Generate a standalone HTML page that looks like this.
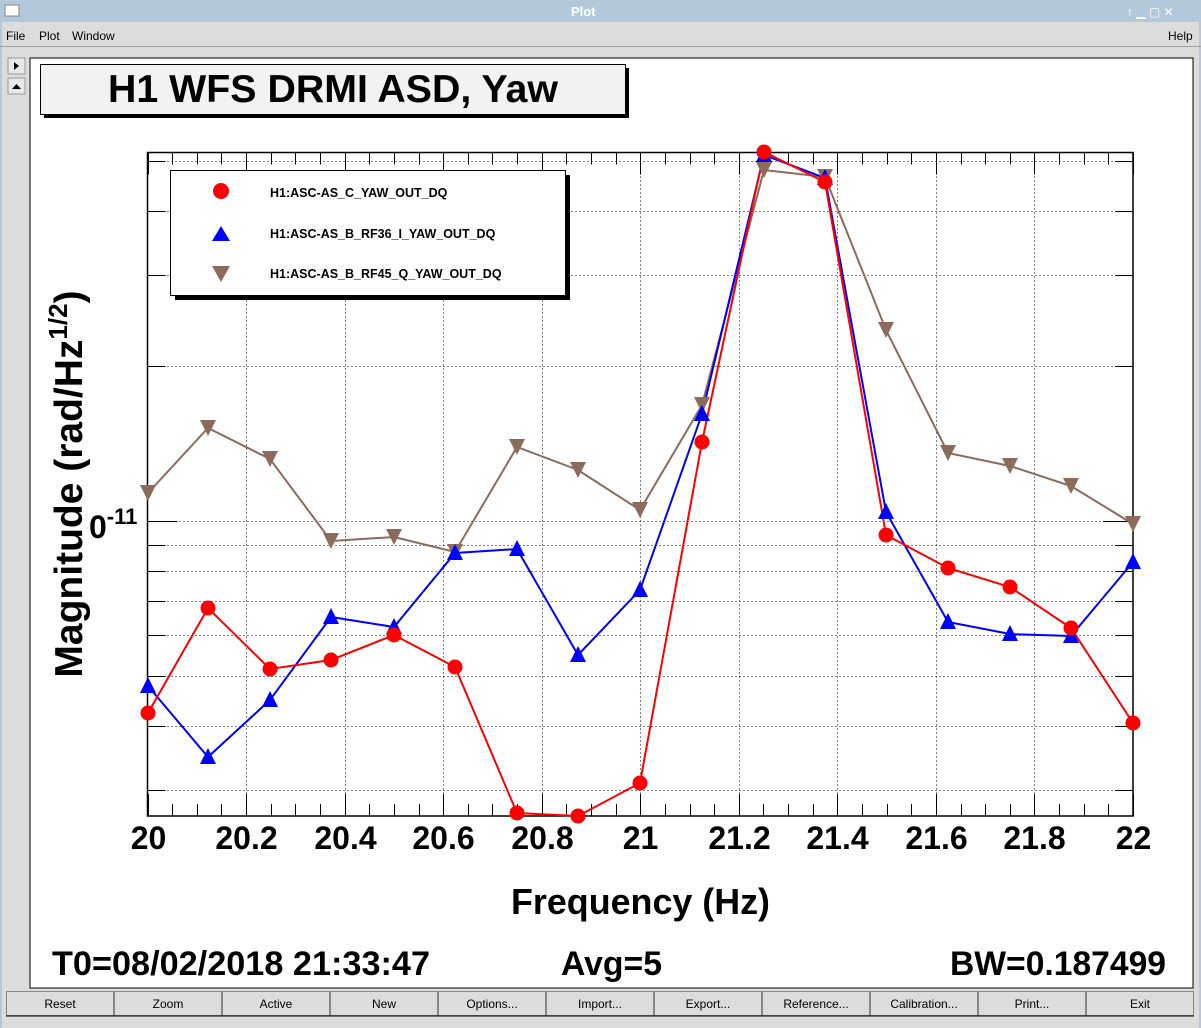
<!DOCTYPE html>
<html><head><meta charset="utf-8"><style>
body{margin:0;width:1201px;height:1028px;overflow:hidden;background:#dcdcdc;font-family:"Liberation Sans",sans-serif}
</style></head><body>
<svg id="s" width="1201" height="1028" xmlns="http://www.w3.org/2000/svg" style="position:absolute;left:0;top:0">
<rect x="0" y="0" width="1201" height="1028" fill="#dcdcdc"/>
<rect x="0" y="0" width="1201" height="22" fill="#b4c8dc"/>
<rect x="5" y="5" width="14" height="11" fill="#fff" stroke="#888"/>
<text x="571" y="16" font-size="13" font-weight="bold" fill="#fff">Plot</text>
<text x="1127" y="16" font-size="12" fill="#fff">↑ ▁ ▢ ✕</text>
<rect x="0" y="0" width="2" height="1028" fill="#b4c8dc"/>
<rect x="1199" y="0" width="2" height="1028" fill="#b4c8dc"/>
<line x1="0" y1="46.5" x2="1201" y2="46.5" stroke="#a0a0a0"/>
<text x="6" y="40" font-size="12">File</text><text x="39" y="40" font-size="12">Plot</text><text x="72" y="40" font-size="12">Window</text>
<text x="1168" y="40" font-size="12">Help</text>
<rect x="8" y="58" width="17" height="16" fill="#e8e8e8" stroke="#999"/><path d="M14 62 L19 66 L14 70Z"/>
<rect x="8" y="78" width="17" height="16" fill="#e8e8e8" stroke="#999"/><path d="M12 89 L16.5 84 L21 89Z"/>
<rect x="30" y="58" width="1163" height="930" fill="#fff" stroke="#000"/>
<rect x="44" y="68" width="585" height="50" fill="#000"/>
<rect x="40.5" y="64.5" width="585" height="50" fill="#f2f2f2" stroke="#000"/>
<text x="108" y="102" font-size="39" font-weight="bold" textLength="450" lengthAdjust="spacingAndGlyphs">H1 WFS DRMI ASD, Yaw</text>
<g id="grid"></g>
<rect x="147.5" y="152.5" width="985.5" height="663.5" fill="none" stroke="#000" stroke-width="1.5"/>
<g font-size="32" font-weight="bold" text-anchor="middle" id="xl"></g>
<text x="511" y="914" font-size="36" font-weight="bold" textLength="259" lengthAdjust="spacingAndGlyphs">Frequency (Hz)</text>
<text transform="translate(82,484) rotate(-90)" font-size="39" font-weight="bold" text-anchor="middle">Magnitude (rad/Hz<tspan dy="-15" font-size="26">1/2</tspan><tspan dy="15">)</tspan></text>
<text x="89" y="538" font-size="32" font-weight="bold">0<tspan dy="-14" font-size="22">-11</tspan></text>
<g id="data"></g>
<rect x="175" y="175" width="395" height="125" fill="#000"/>
<rect x="170.5" y="170.5" width="395" height="125" fill="#fff" stroke="#000"/>
<circle cx="221" cy="191" r="8" fill="#f00"/>
<path d="M212 241 L221 226 L230 241Z" fill="#00f"/>
<path d="M212 266 L221 282 L230 266Z" fill="#8b6b5c"/>
<g font-size="12.5" font-weight="bold"><text x="270" y="197">H1:ASC-AS_C_YAW_OUT_DQ</text><text x="270" y="238">H1:ASC-AS_B_RF36_I_YAW_OUT_DQ</text><text x="270" y="278">H1:ASC-AS_B_RF45_Q_YAW_OUT_DQ</text></g>
<g font-size="34" font-weight="bold"><text x="52" y="975" textLength="378" lengthAdjust="spacingAndGlyphs">T0=08/02/2018 21:33:47</text><text x="561" y="975" textLength="101" lengthAdjust="spacingAndGlyphs">Avg=5</text><text x="950" y="975" textLength="216" lengthAdjust="spacingAndGlyphs">BW=0.187499</text></g>
<g id="btn" font-size="12" text-anchor="middle"></g>
</svg>
<script>
var NS="http://www.w3.org/2000/svg";
function el(p,t,a,tx){var e=document.createElementNS(NS,t);for(var k in a)e.setAttribute(k,a[k]);if(tx)e.textContent=tx;document.getElementById(p).appendChild(e);return e;}
var L=147.5,R=1133,T=152.5,B=816;
function xp(f){return L+(f-20)/2*(R-L);}
function yp(v){return 521-515*Math.log10(v/1e-11);}
var ys=[3e-12,4e-12,5e-12,6e-12,7e-12,8e-12,9e-12,1e-11,2e-11,3e-11,4e-11,5e-11];
ys.forEach(function(v){var y=Math.round(yp(v))+0.5;el('grid','line',{x1:L,x2:R,y1:y,y2:y,stroke:'#000','stroke-dasharray':'1,3'});
var big=(v==1e-11);el('grid','line',{x1:L,x2:L+(big?30:18),y1:y,y2:y,stroke:'#000'});el('grid','line',{x1:R,x2:R-(big?30:18),y1:y,y2:y,stroke:'#000'});});
for(var i=0;i<=40;i++){var f=20+i*0.05,x=Math.round(xp(f))+0.5,maj=(i%4==0),len=maj?22:12;
if(maj&&i>0&&i<40)el('grid','line',{x1:x,x2:x,y1:T,y2:B,stroke:'#000','stroke-dasharray':'1,3'});
el('grid','line',{x1:x,x2:x,y1:B,y2:B-len,stroke:'#000'});el('grid','line',{x1:x,x2:x,y1:T,y2:T+len,stroke:'#000'});
if(maj)el('xl','text',{x:x,y:849},(Math.round(f*10)/10).toString());}
var red=[[148,713],[208,608],[270,669],[331,660],[394,635],[455,667],[517,813],[578,816],[640,783],[702,442],[764,152],[825,182],[886,535],[948,568],[1010,587],[1071,628],[1133,723]];
var blue=[[148,686],[208,757],[270,700],[331,617],[394,627],[455,553],[517,549],[578,655],[640,590],[702,414],[764,155],[825,178],[886,512],[948,622],[1010,634],[1071,636],[1133,562]];
var br=[[148,493],[208,428],[270,459],[331,541],[394,537],[455,552],[517,447],[578,470],[640,510],[702,405],[764,170],[825,177],[886,330],[948,453],[1010,466],[1071,486],[1133,524]];
function pl(d,c){el('data','polyline',{points:d.map(function(p){return p.join(',')}).join(' '),fill:'none',stroke:c,'stroke-width':2});}
pl(br,'#8b6b5c');pl(blue,'#00f');pl(red,'#f00');
br.forEach(function(p){el('data','path',{d:'M'+(p[0]-8)+' '+(p[1]-8)+' L'+(p[0]+8)+' '+(p[1]-8)+' L'+p[0]+' '+(p[1]+8)+'Z',fill:'#8b6b5c'});});
blue.forEach(function(p){el('data','path',{d:'M'+(p[0]-8)+' '+(p[1]+7)+' L'+(p[0]+8)+' '+(p[1]+7)+' L'+p[0]+' '+(p[1]-9)+'Z',fill:'#00f'});});
red.forEach(function(p){el('data','circle',{cx:p[0],cy:p[1],r:7.5,fill:'#f00'});});
var bn=['Reset','Zoom','Active','New','Options...','Import...','Export...','Reference...','Calibration...','Print...','Exit'];
bn.forEach(function(b,i){var x=6+i*108;el('btn','rect',{x:x+0.5,y:991.5,width:107,height:24,fill:'#dcdcdc',stroke:'#888'});
el('btn','line',{x1:x,x2:x+108,y1:1016,y2:1016,stroke:'#000'});el('btn','text',{x:x+54,y:1008},b);});
</script>
</body></html>
